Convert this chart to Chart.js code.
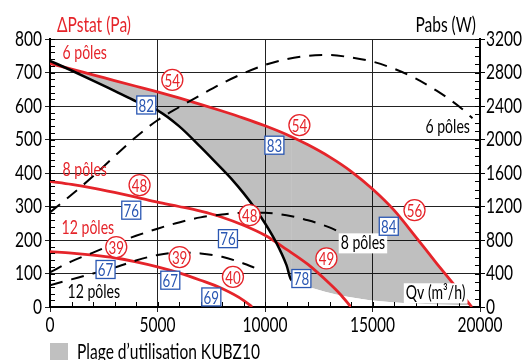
<!DOCTYPE html>
<html>
<head>
<meta charset="utf-8">
<script src="https://cdn.jsdelivr.net/npm/chart.js@4.4.0/dist/chart.umd.min.js"></script>
<style>
  html, body { margin: 0; padding: 0; background: #fff; }
  #wrap { width: 526px; height: 360px; }
</style>
</head>
<body>
<div id="wrap"><canvas id="kubzChart" width="526" height="360"></canvas></div>
<script>
// Fan curves: flow Qv (m3/h) and static pressure (Pa)
const qRed6 = [0, 1000, 2000, 3000, 4000, 5000, 6000, 7000, 8000, 9000, 10000, 11000, 12000, 13000, 14000, 15000, 16000, 17000, 18000, 19000, 19620];
const pRed6 = [727, 710, 693, 676, 659, 642, 624, 605, 585, 564, 541, 515, 484, 448, 405, 352, 289, 210, 129, 50, 0];

const qRed8 = [0, 1000, 2000, 3000, 4000, 5000, 6000, 7000, 8000, 9000, 10000, 11000, 12000, 13000, 13500, 14000];
const pRed8 = [375, 366, 355, 342, 328, 313, 300, 286, 268, 244, 214, 172, 127, 70, 38, 0];

const qRed12 = [0, 1000, 2000, 3000, 4000, 5000, 6000, 7000, 8000, 9000, 9400];
const pRed12 = [165, 161, 155, 147, 135, 120, 102, 80, 55, 20, 0];

// Limit of the usage range (black curve, then the lower edge of the grey zone)
const qLimit = [0, 1000, 2000, 3000, 4000, 5000, 6000, 7000, 8000, 8500, 9000, 9500, 10000, 10500, 11000, 11230, 19550];
const pLimit = [735, 706, 676, 645, 614, 587, 540, 478, 412, 378, 340, 298, 250, 195, 125, 80, 5];
const limitEndQ = 11230;

// Absorbed power (W), right axis
const qPow6 = [0, 1000, 2000, 3000, 4000, 5000, 6000, 7000, 8000, 9000, 10000, 11000, 12000, 13000, 14000, 15000, 16000, 17000, 18000, 19000, 19650];
const wPow6 = [1130, 1340, 1560, 1800, 2030, 2230, 2385, 2530, 2670, 2790, 2890, 2960, 3000, 3008, 2980, 2930, 2845, 2730, 2580, 2400, 2255];

const qPow8 = [0, 1000, 2000, 3000, 4000, 5000, 6000, 7000, 8000, 9000, 10000, 11000, 12000, 13000, 13600];
const wPow8 = [415, 545, 650, 755, 850, 935, 1010, 1070, 1105, 1125, 1125, 1095, 1035, 950, 880];

const qPow12 = [0, 1000, 2000, 3000, 4000, 5000, 6000, 7000, 8000, 9000, 9500];
const wPow12 = [260, 330, 400, 470, 555, 620, 650, 640, 600, 520, 470];

// Sound levels (red circles) and efficiencies (blue boxes)
const soundValues = ['54', '54', '48', '48', '39', '39', '40', '49', '56'];
const soundQ = [5690, 11600, 4166, 9287, 3082, 6028, 8509, 12857, 16954];
const soundP = [678, 543, 364, 274, 179, 149, 90, 145, 289];

const effValues = ['82', '83', '76', '76', '67', '67', '69', '78', '84'];
const effQ = [4478, 10437, 3780, 8277, 2584, 5595, 7504, 11693, 15757];
const effP = [603, 483, 289, 204, 112, 80, 30, 85, 241];

const FONT = 'Lato, "Liberation Sans", sans-serif';
const SX = 0.74;   // horizontal squeeze, the original uses a condensed face
const RED = '#e5242a';
const BLUE = '#2a57b3';

function pts(xs, ys) {
    return xs.map(function(x, i) { return { x: x, y: ys[i] }; });
}

function drawText(ctx, text, x, y, size, color, align) {
    ctx.save();
    ctx.font = size + 'px ' + FONT;
    ctx.fillStyle = color;
    ctx.textBaseline = 'middle';
    ctx.textAlign = align;
    ctx.translate(x, y);
    ctx.scale(SX, 1);
    ctx.fillText(text, 0, 0);
    ctx.restore();
}

function textWidth(ctx, text, size) {
    ctx.save();
    ctx.font = size + 'px ' + FONT;
    const w = ctx.measureText(text).width * SX;
    ctx.restore();
    return w;
}

// text labels on the plot
const curveLabels = [
    { text: '6 pôles', q: 582, p: 758, color: RED, align: 'left' },
    { text: '8 pôles', q: 582, p: 409, color: RED, align: 'left' },
    { text: '12 pôles', q: 540, p: 235, color: RED, align: 'left' },
    { text: '12 pôles', q: 815, p: 44, color: '#000', align: 'left' },
    { text: '6 pôles', q: 19530, p: 537, color: '#000', align: 'right' },
    { text: '8 pôles', q: 13522, p: 190, color: '#000', align: 'left', box: true },
    { text: 'Qv (m³/h)', q: 16550, p: 41, color: '#000', align: 'left', box: true }
];

const annotations = {
    id: 'annotations',
    afterDatasetsDraw(chart) {
        const ctx = chart.ctx;
        const x = chart.scales.x;
        const y = chart.scales.y;
        const y2 = chart.scales.y2;
        const area = chart.chartArea;
        ctx.save();

        // minor ticks
        ctx.strokeStyle = '#000';
        ctx.lineWidth = 1;
        ctx.beginPath();
        for (let v = 0; v <= 800; v += 20) {
            const py = Math.round(y.getPixelForValue(v)) + 0.5;
            ctx.moveTo(area.left, py); ctx.lineTo(area.left + 5, py);
        }
        for (let v = 0; v <= 3200; v += 100) {
            const py = Math.round(y2.getPixelForValue(v)) + 0.5;
            ctx.moveTo(area.right - 5, py); ctx.lineTo(area.right, py);
        }
        for (let v = 0; v <= 20000; v += 1000) {
            const px = Math.round(x.getPixelForValue(v)) + 0.5;
            ctx.moveTo(px, area.bottom); ctx.lineTo(px, area.bottom - 5);
        }
        ctx.stroke();

        // tick labels
        y.ticks.forEach(function(t) {
            drawText(ctx, String(t.value), area.left - 8, y.getPixelForValue(t.value), 21, '#000', 'right');
        });
        y2.ticks.forEach(function(t) {
            drawText(ctx, String(t.value), area.right + 6, y2.getPixelForValue(t.value), 21, '#000', 'left');
        });
        x.ticks.forEach(function(t) {
            drawText(ctx, String(t.value), x.getPixelForValue(t.value), area.bottom + 18, 21, '#000', 'center');
        });

        // curve labels
        curveLabels.forEach(function(l) {
            const px = x.getPixelForValue(l.q);
            const py = y.getPixelForValue(l.p);
            if (l.box) {
                const w = textWidth(ctx, l.text, 19);
                const left = l.align === 'left' ? px - 2 : px - w - 2;
                ctx.fillStyle = '#fff';
                ctx.fillRect(left, py - 10, w + 4, 20);
            }
            drawText(ctx, l.text, px, py, 19, l.color, l.align);
        });

        // sound level circles
        soundValues.forEach(function(v, i) {
            const px = x.getPixelForValue(soundQ[i]);
            const py = y.getPixelForValue(soundP[i]);
            ctx.beginPath();
            ctx.arc(px, py, 10.5, 0, Math.PI * 2);
            ctx.fillStyle = '#fff';
            ctx.fill();
            ctx.strokeStyle = RED;
            ctx.lineWidth = 1.3;
            ctx.stroke();
            drawText(ctx, v, px, py + 1, 18, RED, 'center');
        });

        // efficiency boxes
        effValues.forEach(function(v, i) {
            const px = x.getPixelForValue(effQ[i]);
            const py = y.getPixelForValue(effP[i]);
            ctx.fillStyle = '#fff';
            ctx.fillRect(px - 9.5, py - 9, 19, 18);
            ctx.strokeStyle = BLUE;
            ctx.lineWidth = 1.3;
            ctx.strokeRect(px - 9.5, py - 9, 19, 18);
            drawText(ctx, v, px, py + 1, 18, BLUE, 'center');
        });

        // axis titles
        drawText(ctx, 'ΔPstat (Pa)', area.left + 7, area.top - 14, 21, RED, 'left');
        drawText(ctx, 'Pabs (W)', area.right - 4, area.top - 14, 21, '#000', 'right');

        // legend
        ctx.fillStyle = '#c0c0c0';
        ctx.fillRect(area.left, 343, 18, 17);
        drawText(ctx, 'Plage d’utilisation KUBZ10', area.left + 27, 352, 21, '#000', 'left');

        ctx.restore();
    }
};

const hiddenTicks = { color: 'rgba(0,0,0,0)', font: { size: 19 } };

const chart = new Chart(document.getElementById('kubzChart'), {
    type: 'line',
    data: {
        datasets: [
            {
                label: 'Limite',
                data: pts(qLimit, pLimit),
                borderColor: '#000',
                borderWidth: 2.5,
                pointRadius: 0,
                cubicInterpolationMode: 'monotone',
                segment: {
                    borderColor: function(c) { return c.p0.parsed.x >= limitEndQ ? 'transparent' : '#000'; }
                },
                order: 2
            },
            {
                label: '6 pôles',
                data: pts(qRed6, pRed6),
                borderColor: RED,
                borderWidth: 2.8,
                pointRadius: 0,
                cubicInterpolationMode: 'monotone',
                fill: { target: 0, above: 'rgba(0,0,0,0.25)', below: 'transparent' },
                order: 10
            },
            {
                label: '8 pôles',
                data: pts(qRed8, pRed8),
                borderColor: RED,
                borderWidth: 2.8,
                pointRadius: 0,
                cubicInterpolationMode: 'monotone',
                order: 3
            },
            {
                label: '12 pôles',
                data: pts(qRed12, pRed12),
                borderColor: RED,
                borderWidth: 2.8,
                pointRadius: 0,
                cubicInterpolationMode: 'monotone',
                order: 3
            },
            {
                label: 'Pabs 6 pôles',
                data: pts(qPow6, wPow6),
                yAxisID: 'y2',
                borderColor: '#000',
                borderWidth: 2,
                borderDash: [13, 9],
                pointRadius: 0,
                cubicInterpolationMode: 'monotone',
                order: 1
            },
            {
                label: 'Pabs 8 pôles',
                data: pts(qPow8, wPow8),
                yAxisID: 'y2',
                borderColor: '#000',
                borderWidth: 2,
                borderDash: [13, 9],
                pointRadius: 0,
                cubicInterpolationMode: 'monotone',
                order: 1
            },
            {
                label: 'Pabs 12 pôles',
                data: pts(qPow12, wPow12),
                yAxisID: 'y2',
                borderColor: '#000',
                borderWidth: 2,
                borderDash: [13, 9],
                pointRadius: 0,
                cubicInterpolationMode: 'monotone',
                order: 1
            }
        ]
    },
    options: {
        responsive: false,
        animation: false,
        layout: { padding: { top: 39, left: 0, right: 0, bottom: 0 } },
        plugins: {
            legend: { display: false },
            tooltip: { enabled: false }
        },
        scales: {
            x: {
                type: 'linear',
                min: 0,
                max: 20000,
                ticks: Object.assign({ stepSize: 5000, maxRotation: 0 }, hiddenTicks),
                grid: { color: '#222', lineWidth: 1, tickLength: 5 },
                border: { color: '#000', width: 2 },
                afterFit: function(s) { s.height = 53; }
            },
            y: {
                position: 'left',
                min: 0,
                max: 800,
                ticks: Object.assign({ stepSize: 100 }, hiddenTicks),
                grid: { color: '#222', lineWidth: 1, tickLength: 5 },
                border: { color: '#000', width: 2 },
                afterFit: function(s) { s.width = 50; }
            },
            y2: {
                position: 'right',
                min: 0,
                max: 3200,
                ticks: Object.assign({ stepSize: 400 }, hiddenTicks),
                grid: { drawOnChartArea: false, color: '#000', tickLength: 5 },
                border: { color: '#000', width: 2 },
                afterFit: function(s) { s.width = 46; }
            }
        }
    },
    plugins: [annotations]
});
</script>
</body>
</html>
